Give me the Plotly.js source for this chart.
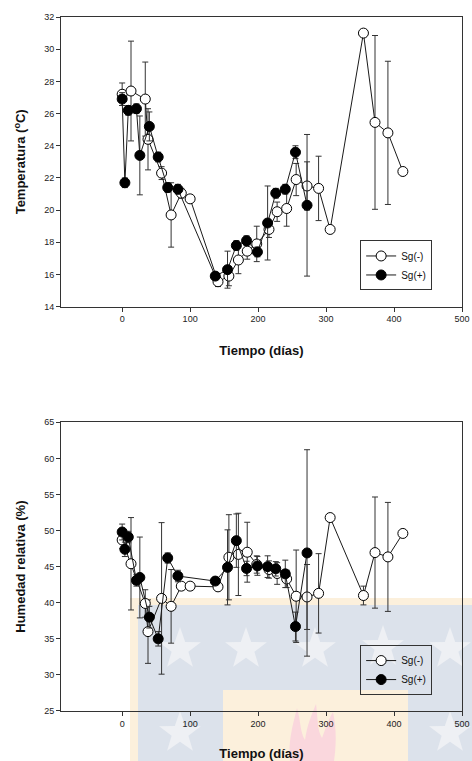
<!DOCTYPE html>
<html>
<head>
<meta charset="utf-8">
<script src="https://cdn.plot.ly/plotly-3.0.1.min.js"></script>
<style>
  html, body { margin: 0; padding: 0; background: #ffffff; }
  #wrap { position: relative; width: 472px; height: 761px; overflow: hidden; }
  #mark { position: absolute; left: 0; top: 0; z-index: 0; }
  #chart { position: absolute; left: 0; top: 0; z-index: 1; width: 472px; height: 761px; }
</style>
</head>
<body>
<div id="wrap">
  <svg id="mark" width="472" height="761" xmlns="http://www.w3.org/2000/svg"></svg>
  <div id="chart"></div>
</div>
<script>
// Sampling days for each group
const daysNeg = [0, 13, 34, 38, 58, 72, 87, 100, 141, 157, 171, 184, 198, 216, 228, 242, 256, 272, 289, 306, 355, 372, 391, 413];
const daysPos = [0, 4, 9, 21, 26, 40, 53, 67, 82, 137, 155, 168, 183, 199, 214, 226, 240, 255, 272];

// Temperature (°C), mean and error
const tempNeg    = [27.2, 27.4, 26.9, 24.4, 22.3, 19.7, 21.05, 20.7, 15.55, 15.9, 16.9, 17.45, 17.9, 18.8, 19.9, 20.1, 21.9, 21.5, 21.35, 18.8, 31.0, 25.45, 24.8, 22.4];
const tempNegErr = [0.7, 3.1, 2.3, 1.9, 0.4, 2.0, 0.3, 0.2, 0.3, 0.6, 0.85, 0.5, 1.1, 0.5, 0.6, 1.1, 1.0, 1.5, 2.0, 0.2, 0.2, 5.4, 4.45, 0.2];
const tempPos    = [26.9, 21.7, 26.2, 26.3, 23.4, 25.2, 23.3, 21.4, 21.3, 15.9, 16.3, 17.8, 18.1, 17.4, 19.2, 21.05, 21.3, 23.6, 20.3];
const tempPosErr = [0.4, 0.3, 0.3, 0.3, 2.45, 0.9, 0.3, 0.3, 0.3, 0.2, 1.15, 0.3, 0.3, 0.3, 2.3, 0.3, 0.3, 0.4, 4.4];

// Relative humidity (%), mean and error
const humNeg    = [48.7, 45.4, 39.9, 36.0, 40.6, 39.5, 42.3, 42.3, 42.2, 46.3, 46.7, 47.0, 45.3, 44.6, 44.05, 43.3, 40.9, 40.8, 41.3, 51.8, 41.0, 46.95, 46.35, 49.6];
const humNegErr = [1.2, 6.4, 1.9, 4.4, 10.5, 5.1, 0.5, 0.5, 0.5, 5.9, 5.7, 4.15, 1.2, 1.2, 1.5, 1.2, 6.4, 4.5, 5.5, 0.3, 1.3, 7.7, 7.55, 0.3];
const humPos    = [49.8, 47.4, 49.1, 43.1, 43.5, 38.0, 35.0, 46.2, 43.7, 43.0, 44.9, 48.6, 44.75, 45.1, 45.0, 44.7, 44.0, 36.7, 46.9];
const humPosErr = [1.1, 1.0, 0.8, 0.8, 5.6, 1.5, 1.0, 0.7, 0.8, 0.5, 5.2, 3.7, 1.0, 1.3, 1.5, 1.0, 1.9, 2.0, 14.3];

const seriesNames = ['Sg(-)', 'Sg(+)'];
const xTitle = 'Tiempo (días)';
const yTitleTop = 'Temperatura (<sup>o</sup>C)';
const yTitleBottom = 'Humedad relativa (%)';

// Pale emblem printed behind the lower panel
(function drawEmblem() {
  const svg = document.getElementById('mark');
  const ns = 'http://www.w3.org/2000/svg';
  function rect(x, y, w, h, fill) {
    const r = document.createElementNS(ns, 'rect');
    r.setAttribute('x', x); r.setAttribute('y', y);
    r.setAttribute('width', w); r.setAttribute('height', h);
    r.setAttribute('fill', fill);
    svg.appendChild(r);
  }
  function star(cx, cy, R, fill) {
    const pts = [];
    for (let i = 0; i < 10; i++) {
      const rr = i % 2 === 0 ? R : R * 0.4;
      const a = -Math.PI / 2 + i * Math.PI / 5;
      pts.push((cx + rr * Math.cos(a)).toFixed(1) + ',' + (cy + rr * Math.sin(a)).toFixed(1));
    }
    const p = document.createElementNS(ns, 'polygon');
    p.setAttribute('points', pts.join(' '));
    p.setAttribute('fill', fill);
    svg.appendChild(p);
  }
  const orange = '#fcf0dc', blue = '#dce2eb', starFill = '#eef0f4';
  rect(130, 598, 342, 163, orange);
  rect(138, 605, 334, 156, blue);
  rect(223, 690, 185, 71, orange);
  [[180, 649], [246, 649], [315, 649], [383, 647], [450, 649], [180, 733], [450, 733]]
    .forEach(s => star(s[0], s[1], 22, starFill));
  const flame = document.createElementNS(ns, 'path');
  flame.setAttribute('d', 'M290,761 C288,742 292,728 297,708 C301,722 300,732 305,740 C307,726 311,716 316,704 C318,718 317,730 322,738 C326,728 328,720 333,712 C337,730 336,748 334,761 Z');
  flame.setAttribute('fill', '#fad7dd');
  svg.appendChild(flame);
})();

const font = 'Liberation Sans, Arial, sans-serif';
const lineCol = '#1a1a1a';
const errCol = '#333333';

function trace(x, y, err, open, xa, ya, leg, name) {
  return {
    type: 'scatter', mode: 'lines+markers', name: name,
    x: x, y: y, xaxis: xa, yaxis: ya, legend: leg,
    line: { color: lineCol, width: 1 },
    marker: { size: 10, symbol: 'circle', color: open ? '#ffffff' : '#000000',
              line: { color: '#000000', width: 1 } },
    error_y: { type: 'data', array: err, visible: true, color: errCol, thickness: 1, width: 3 },
    cliponaxis: false
  };
}

const data = [
  trace(daysNeg, tempNeg, tempNegErr, true,  'x',  'y',  'legend',  seriesNames[0]),
  trace(daysPos, tempPos, tempPosErr, false, 'x',  'y',  'legend',  seriesNames[1]),
  trace(daysNeg, humNeg,  humNegErr,  true,  'x2', 'y2', 'legend2', seriesNames[0]),
  trace(daysPos, humPos,  humPosErr,  false, 'x2', 'y2', 'legend2', seriesNames[1])
];

function xAxis(anchor) {
  return {
    anchor: anchor, domain: [0, 1], range: [-90, 500],
    tick0: 0, dtick: 100, ticks: 'outside', ticklen: 4, tickcolor: '#333',
    showgrid: false, zeroline: false, showline: true, mirror: true,
    linecolor: '#333', linewidth: 1,
    tickfont: { family: font, size: 9, color: '#222' },
    title: { text: '<b>' + xTitle + '</b>', font: { family: font, size: 13, color: '#111' }, standoff: 22 }
  };
}
function yAxis(anchor, domain, range, dtick, title) {
  return {
    anchor: anchor, domain: domain, range: range, dtick: dtick,
    ticks: 'outside', ticklen: 4, tickcolor: '#333',
    showgrid: false, zeroline: false, showline: true, mirror: true,
    linecolor: '#333', linewidth: 1,
    tickfont: { family: font, size: 9, color: '#222' },
    title: { text: '<b>' + title + '</b>', font: { family: font, size: 13, color: '#111' }, standoff: 15 }
  };
}

function legendBox(y, bg) {
  return {
    x: 0.746, y: y, xanchor: 'left', yanchor: 'top',
    bgcolor: bg, bordercolor: '#333', borderwidth: 1,
    font: { family: font, size: 10, color: '#111' },
    tracegroupgap: 0, itemwidth: 30
  };
}

const layout = {
  width: 472, height: 761,
  margin: { l: 61, r: 10, t: 17, b: 50 },
  paper_bgcolor: 'rgba(0,0,0,0)', plot_bgcolor: 'rgba(0,0,0,0)',
  showlegend: true,
  font: { family: font },
  xaxis: xAxis('y'),
  yaxis: yAxis('x', [0.5826, 1], [14, 32], 2, yTitleTop),
  xaxis2: xAxis('y2'),
  yaxis2: yAxis('x2', [0, 0.416], [25, 65], 5, yTitleBottom),
  legend: legendBox(0.678, '#ffffff'),
  legend2: legendBox(0.095, 'rgba(0,0,0,0)')
};

Plotly.newPlot('chart', data, layout, { staticPlot: true, displayModeBar: false });
</script>
</body>
</html>
